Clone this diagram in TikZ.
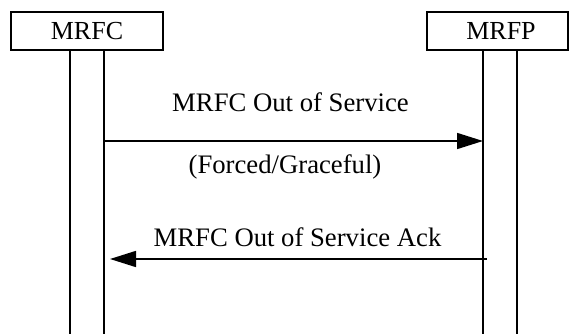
\documentclass[tikz,border=0pt]{standalone}
\usepackage{fontspec}
\setmainfont{Liberation Serif}
\usetikzlibrary{arrows.meta}
\begin{document}
\begin{tikzpicture}[x=1pt,y=-1pt,
  ent/.style={draw, line width=1.4pt, minimum height=38pt, inner sep=0pt, font=\fontsize{26}{30}\selectfont},
  life/.style={line width=1.6pt},
  msg/.style={line width=1.6pt, -{Triangle[length=26pt,width=16pt]}},
  lbl/.style={anchor=base, inner sep=0pt, font=\fontsize{26.7}{30}\selectfont}]
\useasboundingbox (0,0) rectangle (569,334);
\node[ent, minimum width=152pt] (mrfc) at (87,31) {MRFC};
\node[ent, minimum width=141pt] (mrfp) at (497.5,31) {\hspace*{7pt}MRFP};
% lifelines
\coordinate (a1) at (70,50);  \coordinate (a1b) at (70,334);
\coordinate (a2) at (104,50); \coordinate (a2b) at (104,334);
\coordinate (b1) at (483,50); \coordinate (b1b) at (483,334);
\coordinate (b2) at (517,50); \coordinate (b2b) at (517,334);
\draw[life] (a1) -- (a1b);
\draw[life] (a2) -- (a2b);
\draw[life] (b1) -- (b1b);
\draw[life] (b2) -- (b2b);
% messages
\coordinate (m1s) at (104,141); \coordinate (m1e) at (483,141);
\coordinate (m2s) at (487,259); \coordinate (m2e) at (110,259);
\draw[msg] (m1s) -- (m1e);
\draw[msg] (m2s) -- (m2e);
\node[lbl] (t1) at (290.5,111) {MRFC Out of Service};
\node[lbl] (t2) at (285,173) {(Forced/Graceful)};
\node[lbl] (t3) at (297.5,246) {MRFC Out of Service Ack};
\end{tikzpicture}
\end{document}
